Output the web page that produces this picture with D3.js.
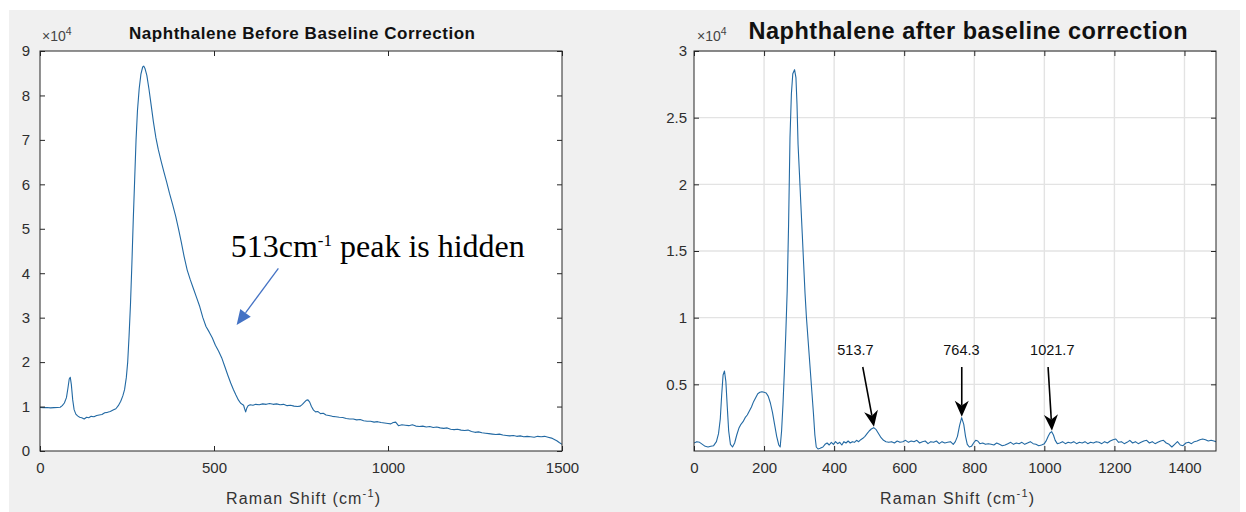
<!DOCTYPE html>
<html>
<head>
<meta charset="utf-8">
<script src="https://cdn.jsdelivr.net/npm/d3@7"></script>
<style>
  html, body { margin: 0; padding: 0; background: #ffffff; }
  svg { display: block; font-family: "Liberation Sans", Arial, Helvetica, sans-serif; }
</style>
</head>
<body>
<svg id="fig" width="1246" height="512"></svg>
<script>
// Raw Raman spectrum of naphthalene: [Raman shift (cm^-1), counts]
const rawSpectrum = [
  [0,9800],[10,9750],[20,9800],[30,9700],[40,9750],[50,9800],[58,9850],[64,10200],[70,10800],[76,12000],
  [80,14000],[84,16200],[87,16600],[90,15000],[94,11500],[98,9300],[103,8300],[108,7900],[114,7600],[120,7500],
  [127,7200],[134,7600],[140,7500],[147,7800],[155,7700],[163,8000],[170,8100],[178,8200],[186,8600],[194,8700],
  [202,8900],[210,9200],[218,9500],[225,10200],[232,11200],[238,12400],[243,13800],[248,16500],[252,20000],[256,26000],
  [260,33000],[264,42000],[268,52000],[272,61000],[276,70000],[280,76500],[285,81500],[290,84800],[295,86400],[298,86600],
  [302,86000],[307,84500],[313,81500],[320,77500],[326,74000],[333,70500],[340,67800],[348,65200],[356,62800],[364,60500],
  [372,58000],[381,55500],[390,52800],[398,50000],[406,47000],[414,43800],[423,40700],[432,38500],[441,36500],[450,34500],
  [459,32500],[468,30000],[477,28000],[486,26800],[495,25500],[504,23800],[513,22500],[522,21000],[531,19000],[540,17000],
  [548,15300],[556,13800],[563,12600],[570,11500],[576,10800],[581,10500],[585,10300],[588,9500],[591,8800],[594,9600],
  [598,10200],[604,10400],[612,10300],[620,10500],[630,10400],[640,10600],[650,10500],[660,10700],[670,10500],[680,10600],
  [690,10400],[700,10500],[710,10200],[720,10300],[730,10100],[740,10000],[748,10100],[754,10500],[760,11000],[765,11400],
  [770,11500],[775,11000],[780,10000],[786,9200],[792,8800],[798,8900],[806,8400],[814,8500],[822,8100],[830,8000],
  [840,7800],[850,7700],[860,7600],[870,7550],[880,7300],[890,7200],[900,7200],[910,7000],[920,7100],[930,6800],
  [940,6700],[950,6700],[960,6500],[970,6600],[980,6400],[990,6300],[1000,6200],[1008,6100],[1015,6400],[1022,6500],
  [1030,5700],[1040,5900],[1050,5800],[1060,5700],[1070,5900],[1080,5600],[1090,5500],[1100,5600],[1110,5400],[1120,5500],
  [1130,5300],[1140,5400],[1150,5200],[1160,5100],[1170,5200],[1180,4900],[1190,4800],[1200,4900],[1210,4700],[1220,4600],
  [1230,4700],[1240,4400],[1250,4200],[1260,4300],[1270,4100],[1280,4000],[1290,3900],[1300,3800],[1310,3700],[1320,3800],
  [1330,3600],[1340,3500],[1350,3400],[1360,3500],[1370,3300],[1380,3400],[1390,3200],[1400,3300],[1410,3200],[1420,3100],
  [1430,3300],[1440,3200],[1450,3300],[1460,3100],[1470,2900],[1478,2600],[1485,2300],[1492,1900],[1500,1500]
];

// Baseline-corrected spectrum: [Raman shift (cm^-1), counts]
const correctedSpectrum = [
  [0,600],[8,700],[16,650],[24,500],[32,350],[40,300],[48,350],[56,400],[64,700],[70,1300],
  [75,2400],[79,4200],[83,5700],[87,6000],[91,5200],[95,3300],[99,1500],[104,500],[110,300],[116,600],
  [122,1200],[128,1700],[134,2000],[140,2200],[146,2500],[152,2700],[158,3000],[164,3300],[170,3700],[176,4000],
  [182,4300],[188,4400],[194,4450],[200,4400],[206,4350],[212,4100],[218,3600],[224,2900],[230,2000],[236,1100],
  [242,450],[246,300],[250,1500],[254,3500],[258,6000],[262,8800],[266,12000],[270,17000],[274,23500],[278,26800],
  [282,28300],[287,28600],[291,28000],[294,26000],[297,23000],[301,20800],[305,18500],[309,16300],[313,14000],[317,11800],
  [321,10000],[326,8200],[331,6400],[336,4600],[341,2800],[345,1200],[349,300],[354,150],[360,200],[368,300],
  [374,500],[380,600],[386,450],[392,650],[398,500],[404,700],[410,550],[416,650],[422,450],[428,700],
  [434,600],[440,750],[446,600],[452,700],[458,650],[464,800],[470,700],[476,850],[482,950],[488,1100],
  [494,1300],[500,1500],[506,1650],[513,1750],[520,1600],[527,1300],[534,1000],[541,800],[548,700],[556,650],
  [564,700],[572,600],[580,750],[588,650],[596,700],[604,800],[612,650],[620,750],[628,700],[636,800],
  [644,600],[652,700],[660,750],[668,550],[676,700],[684,650],[692,750],[700,550],[708,700],[716,600],
  [724,650],[732,700],[740,500],[746,700],[752,1100],[758,1900],[764,2500],[770,2000],[775,1100],[780,500],
  [786,300],[792,350],[798,600],[804,800],[810,750],[816,550],[824,600],[832,500],[840,550],[848,500],
  [856,450],[864,600],[872,500],[880,400],[888,450],[896,550],[904,650],[912,500],[920,600],[928,550],
  [936,650],[944,500],[952,600],[960,700],[968,550],[976,500],[984,400],[992,450],[1000,550],[1006,800],
  [1011,1100],[1016,1350],[1021,1450],[1026,1200],[1031,800],[1037,550],[1044,600],[1052,700],[1060,550],[1068,650],
  [1076,600],[1084,700],[1092,550],[1100,650],[1108,600],[1116,700],[1124,550],[1132,650],[1140,600],[1148,700],
  [1156,650],[1164,550],[1172,700],[1180,600],[1188,750],[1196,850],[1204,900],[1212,650],[1220,700],[1228,550],
  [1236,650],[1244,800],[1252,600],[1260,700],[1268,550],[1276,650],[1284,750],[1292,800],[1300,600],[1308,700],
  [1316,550],[1324,650],[1332,750],[1340,800],[1348,600],[1356,500],[1364,300],[1372,500],[1380,700],[1388,450],
  [1396,400],[1404,600],[1412,650],[1420,550],[1428,700],[1436,750],[1444,850],[1452,900],[1460,850],[1468,750],
  [1476,800],[1484,750],[1490,700]
];

// Axis ticks
const rawShiftTicks = [0, 500, 1000, 1500];
const rawCountTicks = [0, 10000, 20000, 30000, 40000, 50000, 60000, 70000, 80000, 90000];
const corrShiftTicks = [0, 200, 400, 600, 800, 1000, 1200, 1400];
const corrCountTicks = [5000, 10000, 15000, 20000, 25000, 30000];

// Labelled peaks in the corrected spectrum
const peakLabels = ["513.7", "764.3", "1021.7"];
const peakShifts = [513.7, 764.3, 1021.7];

const titles = ["Naphthalene Before Baseline Correction", "Naphthalene after baseline correction"];
const hiddenNote = ["513cm", "-1", " peak is hidden"];

const svg = d3.select("#fig");
const FONT = '"Liberation Sans", Arial, Helvetica, sans-serif';
const AX = "#262626";
const LINE = "#2269a3";

// figure background
svg.append("rect").attr("width", 1246).attr("height", 512).attr("fill", "#ffffff");
svg.append("rect").attr("x", 9).attr("y", 10).attr("width", 1231).attr("height", 502).attr("fill", "#f0f0f0");

function panel(cfg) {
  const { x, y, id } = cfg;
  const [x0, x1] = x.range();
  const [y1, y0] = y.range();
  const g = svg.append("g");

  g.append("rect").attr("x", x0).attr("y", y0).attr("width", x1 - x0).attr("height", y1 - y0)
    .attr("fill", "#ffffff");

  if (cfg.grid) {
    g.append("g").selectAll("line").data(cfg.xTicks.filter(d => x(d) > x0 + 1)).join("line")
      .attr("x1", d => x(d)).attr("x2", d => x(d)).attr("y1", y0).attr("y2", y1)
      .attr("stroke", "#e3e3e3").attr("stroke-width", 1.4);
    g.append("g").selectAll("line").data(cfg.yTicks).join("line")
      .attr("x1", x0).attr("x2", x1).attr("y1", d => y(d)).attr("y2", d => y(d))
      .attr("stroke", "#e3e3e3").attr("stroke-width", 1.4);
  }

  // clipped spectrum line
  svg.append("clipPath").attr("id", id).append("rect")
    .attr("x", x0).attr("y", y0).attr("width", x1 - x0).attr("height", y1 - y0);
  g.append("path").datum(cfg.data)
    .attr("clip-path", `url(#${id})`)
    .attr("d", d3.line().x(d => x(d[0])).y(d => y(d[1])))
    .attr("fill", "none").attr("stroke", LINE).attr("stroke-width", 1.1)
    .attr("stroke-linejoin", "round");

  const fmtX = d3.format("d");
  const fmtY = d => String(+(d / 10000).toFixed(1));
  const styleAxis = sel => {
    sel.select(".domain").remove();
    sel.selectAll(".tick line").attr("stroke", AX).attr("stroke-width", 1);
    sel.selectAll("text").attr("fill", "#2e2e2e").attr("font-size", 15).attr("font-family", FONT);
  };

  g.append("g").attr("transform", `translate(0,${y1})`)
    .call(d3.axisBottom(x).tickValues(cfg.xTicks).tickFormat(fmtX).tickSizeInner(-5).tickSizeOuter(0).tickPadding(11))
    .call(styleAxis);
  g.append("g").attr("transform", `translate(0,${y0})`)
    .call(d3.axisTop(x).tickValues(cfg.xTicks).tickSizeInner(-5).tickSizeOuter(0).tickFormat(""))
    .call(styleAxis);
  g.append("g").attr("transform", `translate(${x0},0)`)
    .call(d3.axisLeft(y).tickValues(cfg.yTicks).tickFormat(fmtY).tickSizeInner(-5).tickSizeOuter(0).tickPadding(cfg.yPad))
    .call(styleAxis);
  g.append("g").attr("transform", `translate(${x1},0)`)
    .call(d3.axisRight(y).tickValues(cfg.yTicks).tickSizeInner(-5).tickSizeOuter(0).tickFormat(""))
    .call(styleAxis);

  g.append("rect").attr("x", x0).attr("y", y0).attr("width", x1 - x0).attr("height", y1 - y0)
    .attr("fill", "none").attr("stroke", AX).attr("stroke-width", 1);

  // exponent label
  const ex = g.append("text").attr("x", x0 + cfg.expDx).attr("y", y0 - 10)
    .attr("font-family", FONT).attr("font-size", 14).attr("fill", "#444");
  ex.append("tspan").text("\u00d710");
  ex.append("tspan").attr("dy", -6).attr("font-size", 10.5).text("4");

  // title
  g.append("text").attr("x", cfg.titleX).attr("y", 39).attr("text-anchor", "middle")
    .attr("font-family", FONT).attr("font-weight", "bold").attr("font-size", cfg.titleSize)
    .attr("textLength", cfg.titleLen).attr("lengthAdjust", "spacing")
    .attr("fill", "#111").text(cfg.title);

  // x axis label
  const xl = g.append("text").attr("x", (x0 + x1) / 2 + 2).attr("y", 504).attr("text-anchor", "middle")
    .attr("font-family", FONT).attr("font-size", 16).attr("fill", "#333")
    .attr("textLength", 154).attr("lengthAdjust", "spacing");
  xl.append("tspan").text("Raman Shift (cm");
  xl.append("tspan").attr("dy", -7).attr("font-size", 11).text("-1");
  xl.append("tspan").attr("dy", 7).text(")");

  return g;
}

const xRaw = d3.scaleLinear().domain([0, 1500]).range([40, 562]);
const yRaw = d3.scaleLinear().domain([0, 90000]).range([451, 51]);
const xCorr = d3.scaleLinear().domain([0, 1490]).range([694, 1216]);
const yCorr = d3.scaleLinear().domain([0, 30000]).range([451, 51]);

const gRaw = panel({ id: "clipRaw", x: xRaw, y: yRaw, data: rawSpectrum, xTicks: rawShiftTicks, yTicks: rawCountTicks,
  yPad: 10, grid: false, title: titles[0], titleX: 302, titleSize: 17, titleLen: 346, expDx: 2 });
const gCorr = panel({ id: "clipCorr", x: xCorr, y: yCorr, data: correctedSpectrum, xTicks: corrShiftTicks, yTicks: corrCountTicks,
  yPad: 7, grid: true, title: titles[1], titleX: 968, titleSize: 23.5, titleLen: 439, expDx: 3 });

function arrow(g, p1, p2, o) {
  const dx = p2[0] - p1[0], dy = p2[1] - p1[1], L = Math.hypot(dx, dy);
  const ux = dx / L, uy = dy / L, nx = -uy, ny = ux;
  const bx = p2[0] - ux * o.head, by = p2[1] - uy * o.head;
  const nxp = p2[0] - ux * o.head * (1 - o.notch), nyp = p2[1] - uy * o.head * (1 - o.notch);
  g.append("line").attr("x1", p1[0]).attr("y1", p1[1]).attr("x2", nxp).attr("y2", nyp)
    .attr("stroke", o.color).attr("stroke-width", o.width);
  g.append("path")
    .attr("d", `M${p2[0]},${p2[1]}L${bx + nx * o.half},${by + ny * o.half}L${nxp},${nyp}L${bx - nx * o.half},${by - ny * o.half}Z`)
    .attr("fill", o.color);
}

// note on the raw spectrum
const note = gRaw.append("text").attr("x", xRaw(548)).attr("y", yRaw(43700))
  .attr("font-family", '"Liberation Serif", "Times New Roman", serif').attr("font-size", 32).attr("fill", "#000");
note.append("tspan").text(hiddenNote[0]);
note.append("tspan").attr("dy", -11).attr("font-size", 17).text(hiddenNote[1]);
note.append("tspan").attr("dy", 11).text(hiddenNote[2]);
arrow(gRaw, [xRaw(685), yRaw(41100)], [xRaw(565), yRaw(28350)],
  { color: "#4472c4", width: 1.3, head: 15, half: 6.5, notch: 0 });

// peak markers on the corrected spectrum
const tailOffset = [-32, 0, -11];
const labelOffset = [-53, -1, 1];
peakShifts.forEach((p, i) => {
  const near = correctedSpectrum.filter(d => Math.abs(d[0] - p) <= 8);
  const top = d3.max(near, d => d[1]);
  const tip = [xCorr(p), yCorr(top) - 1];
  const tail = [xCorr(p + tailOffset[i]), yCorr(6300)];
  arrow(gCorr, tail, tip, { color: "#000", width: 1.6, head: 16, half: 7, notch: 0.3 });
  gCorr.append("text").attr("x", xCorr(p + labelOffset[i])).attr("y", yCorr(7200))
    .attr("text-anchor", "middle").attr("font-family", FONT).attr("font-size", 14.5)
    .attr("fill", "#111").text(peakLabels[i]);
});
</script>
</body>
</html>
